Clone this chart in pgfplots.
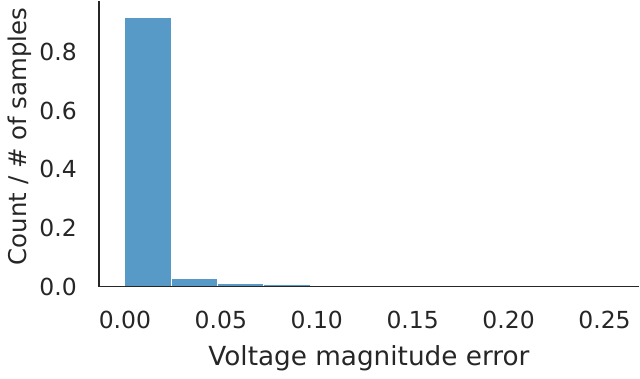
\documentclass[border=0pt]{standalone}
\usepackage{pgfplots}
\pgfplotsset{compat=1.18}
\usepackage{fontspec}
\setmainfont{DejaVu Sans}
\definecolor{txt}{HTML}{262626}
\definecolor{barblue}{HTML}{5799C7}
\begin{document}
\fontsize{17.6}{21}\selectfont
\begin{tikzpicture}
\begin{axis}[
    scale only axis,
    width=405pt,
    height=214pt,
    xmin=-0.0136, xmax=0.268,
    ymin=0, ymax=0.975,
    axis lines*=left,
    axis line style={txt, line width=1.4pt},
    axis on top,
    xtick={0,0.05,0.1,0.15,0.2,0.25},
    ytick={0,0.2,0.4,0.6,0.8},
    major tick length=0pt,
    xticklabel style={yshift=-12pt},
    yticklabel style={xshift=-10.5pt},
    /pgf/number format/assume math mode=true,
    /pgf/number format/.cd, fixed, fixed zerofill, precision=2,
    /pgfplots/.cd,
    yticklabel={\pgfmathprintnumber[fixed,fixed zerofill,precision=1]{\tick}},
    xlabel={Voltage magnitude error},
    ylabel={Count / \# of samples},
    every tick label/.style={font=\fontsize{17.6}{21}\selectfont, text=txt},
    xlabel style={yshift=-1pt, font=\fontsize{19.7}{23}\selectfont, text=txt},
    ylabel style={yshift=-6pt, xshift=5.5pt, font=\fontsize{18.3}{22}\selectfont, text=txt},
    tick style={draw=none},
]
\addplot[ybar interval, fill=barblue, draw=white, line width=0.8pt] coordinates {
(0.00000, 0.920)
(0.02414, 0.027)
(0.04828, 0.010)
(0.07242, 0.006)
(0.09656, 0.0004)
(0.12070, 0.0002)
(0.14484, 0.0001)
(0.16898, 0.0001)
(0.19312, 0.0001)
(0.21726, 0.0001)
(0.24140, 0.0001)
};
\end{axis}
\end{tikzpicture}
\end{document}
